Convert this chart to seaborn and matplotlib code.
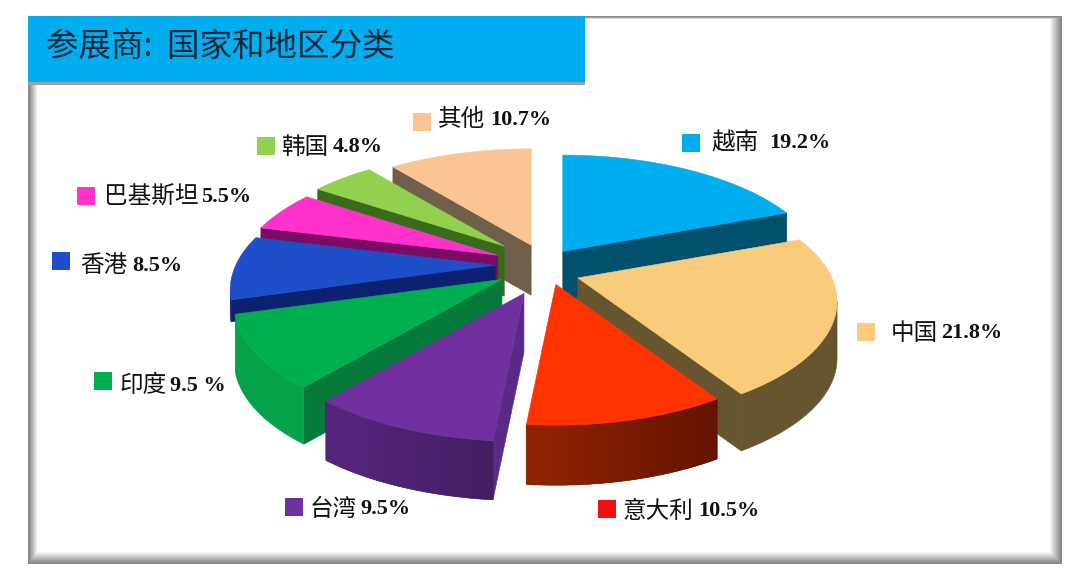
# -*- coding: utf-8 -*-
import numpy as np
import pandas as pd
import seaborn as sns
import matplotlib.pyplot as plt
from matplotlib.colors import to_rgb
from matplotlib.patches import Polygon, Rectangle

names = ['越南', '中国', '意大利', '台湾', '印度', '香港', '巴基斯坦', '韩国', '其他']
shares = [19.2, 21.8, 10.5, 9.5, 9.5, 8.5, 5.5, 4.8, 10.7]
pct_text = ['19.2%', '21.8%', '10.5%', '9.5%', '9.5 %', '8.5%', '5.5%', '4.8%', '10.7%']

top_colors = ['#00AEEF', '#F9CB7A', '#FF3300', '#7030A0', '#00B050', '#1F4FC8', '#FF33CC', '#92D050', '#FAC592']
side_colors = ['#00506E', '#66552F', '#7A1A00', '#5A2A88', '#057A3A', '#0C2270', '#7A0C66', '#3A6A1C', '#70604A']
wall_right = ['#005F80', '#66552F', '#641400', '#431E63', '#06A24B', '#0C2270', '#7A0C66', '#3A6A1C', '#70604A']
wall_left = ['#005F80', '#66552F', '#922400', '#56267E', '#06A24B', '#0C2270', '#7A0C66', '#3A6A1C', '#70604A']
swatch_colors = ['#00AEEF', '#F9CB7A', '#F01010', '#7030A0', '#00B050', '#1F4FC8', '#FF33CC', '#92D050', '#FAC592']

# legend layout in pixels
swatch_x = [691, 866, 607, 294, 103, 61, 86, 266, 422]
swatch_y = [143, 332, 509, 507, 381, 261, 196, 146, 122]
name_x = [711, 891, 623, 310, 120, 80, 104, 281, 438]
pct_x = [769, 941, 698, 360, 170, 132, 201, 333, 490]
label_y = [143, 333, 511, 509, 386, 266, 197, 147, 120]

# pie projection, pixels
cx, cy = 540, 268
rx, ry, persp = 262, 118, 0.204
explode = 0.16
draw_order = [8, 0, 7, 6, 5, 4, 1, 3, 2]
# per slice fine adjustment of the exploded layout
nudge_x = [-1, -2, 6, 0, -3, -3, -4, -5, 5]
nudge_y = [-1, 4, -2, 8, 1, -3, -5, -9, -5]
scale = [0.98, 0.97, 0.96, 1.0, 1.0, 0.99, 0.98, 0.955, 0.98]
depth = [50, 57, 60, 59, 57, 22, 50, 50, 50]

sns.set_theme(style='white')
plt.rcParams['font.family'] = ['Noto Sans CJK SC', 'DejaVu Sans']

fig = plt.figure(figsize=(10.8, 5.72), dpi=100)
ax = fig.add_axes([0, 0, 1, 1])


def project(ax0, ay0, theta, r=1.0):
    u, v = r * np.sin(theta), r * np.cos(theta)
    w = 1 + persp * v
    return ax0 + u * rx / w, ay0 - v * ry / w


# frame with bevel
x0, y0, x1, y1 = 28, 16, 1062, 564
ax.add_patch(Rectangle((x0, y0), x1 - x0, y1 - y0, fc='#8A8A8A', ec='none', zorder=1))
steps = 12
for i, g in enumerate(np.linspace(0.55, 1.0, steps)):
    ax.add_patch(Rectangle((x0 + 1 + i * 0.75, y0 + 1 + i * 0.2),
                           x1 - x0 - 2 - i * 1.75, y1 - y0 - 2 - i * 1.2,
                           fc=(g, g, g), ec='none', zorder=1 + i * 0.01))

# title bar
ax.add_patch(Rectangle((28, 80), 557, 5, fc='#A0A0A0', ec='none', zorder=2))
ax.add_patch(Rectangle((28, 16), 557, 66, fc='#00AEEF', ec='none', zorder=2.1))
ax.text(46, 47, '参展商:  国家和地区分类', fontsize=23.4, color='#10283A', va='center', ha='left', zorder=3)

# exploded 3d slices
edges = np.concatenate([[0], np.cumsum(shares)]) / np.sum(shares) * 2 * np.pi
z = 4
for i in draw_order:
    t0, t1 = edges[i], edges[i + 1]
    mid = (t0 + t1) / 2
    ax0 = cx + explode * np.sin(mid) * rx + nudge_x[i]
    ay0 = cy - explode * np.cos(mid) * ry + nudge_y[i]
    thetas = np.linspace(t0, t1, 40)
    arc = np.array([project(ax0, ay0, t, scale[i]) for t in thetas])
    top = np.vstack([[ax0, ay0], arc])
    down = np.array([0, depth[i]])

    # radial faces first, then the outer wall, only those turned to the viewer
    for p, q in [(top[0], top[1]), (top[-1], top[0])]:
        if q[0] < p[0]:
            ax.add_patch(Polygon([p, q, q + down, p + down], fc=side_colors[i], ec=side_colors[i], lw=0.4, zorder=z))
    seen = [k for k in range(len(arc) - 1) if arc[k + 1][0] < arc[k][0]]
    if seen:
        front = arc[seen[0]:seen[-1] + 2]
        wall = Polygon(np.vstack([front, front[::-1] + down]), fc=wall_right[i], ec=wall_right[i], lw=0.4, zorder=z + 0.1)
        ax.add_patch(wall)
        if wall_left[i] != wall_right[i]:
            ramp = np.linspace(to_rgb(wall_left[i]), to_rgb(wall_right[i]), 128)[np.newaxis, :, :]
            im = ax.imshow(ramp, extent=(front[:, 0].min(), front[:, 0].max(), front[:, 1].max() + depth[i], front[:, 1].min()),
                           aspect='auto', zorder=z + 0.11, interpolation='bilinear')
            im.set_clip_path(wall)
    ax.add_patch(Polygon(top, fc=top_colors[i], ec=top_colors[i], lw=0.4, zorder=z + 0.2))
    z += 1

# legend swatches and labels
legend_df = pd.DataFrame({'name': names, 'x': swatch_x, 'y': swatch_y})
sns.scatterplot(data=legend_df, x='x', y='y', hue='name', palette=sns.color_palette(swatch_colors),
                marker='s', s=165, linewidth=0, legend=False, ax=ax, zorder=20)
for i in range(len(names)):
    ax.text(name_x[i], label_y[i], names[i], fontsize=17, fontweight='medium', color='#111111',
            va='center', ha='left', zorder=21)
    ax.text(pct_x[i], label_y[i], pct_text[i], fontsize=16, fontweight='bold', color='#111111',
            family=['Liberation Serif', 'DejaVu Serif'], va='center', ha='left', zorder=21)

ax.set_xlim(0, 1080)
ax.set_ylim(572, 0)
ax.axis('off')
fig.savefig('out.png', dpi=100, facecolor='white')
